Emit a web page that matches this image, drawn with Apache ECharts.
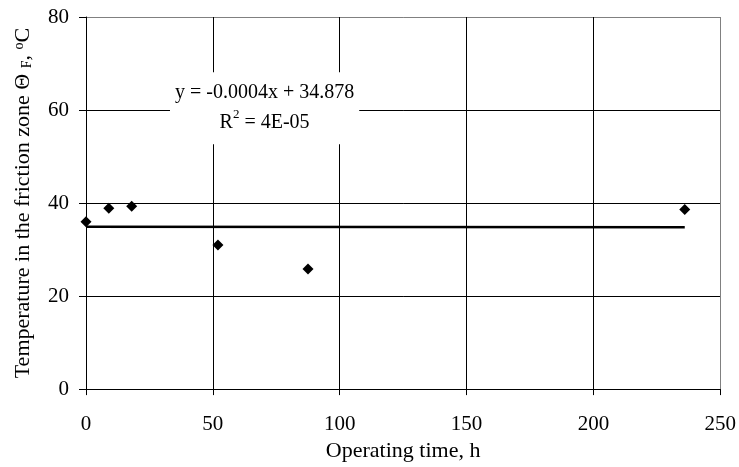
<!DOCTYPE html>
<html>
<head>
<meta charset="utf-8">
<script src="https://cdn.jsdelivr.net/npm/echarts@6/dist/echarts.min.js"></script>
<style>
  html, body { margin: 0; padding: 0; background: #fff; }
  #chart { width: 739px; height: 467px; }
</style>
</head>
<body>
<div id="chart"></div>
<script>
// operating time, h
const hours = [0, 9, 18, 52, 87.5, 236]
// temperature in friction zone, C
const temps = [36, 38.9, 39.3, 31, 25.8, 38.6]
const xTicks = [0, 50, 100, 150, 200, 250]
const yTicks = [0, 20, 40, 60, 80]
// linear trend as printed on the chart
const slope = -0.0004
const intercept = 34.878
const r2Text = '4E-05'

const font = 'Liberation Serif'
const fs = 21

const points = hours.map((h, i) => [h, temps[i]])
const xMin = Math.min(...hours)
const xMax = Math.max(...hours)
const trend = [[xMin, intercept + slope * xMin], [xMax, intercept + slope * xMax]]

// last split line is the plot border (grey)
const gridColors = (n) => {
    const c = []
    for (let i = 0; i < n; i++) c.push(i === n - 1 ? '#808080' : '#000')
    return c
}

const chart = echarts.init(document.getElementById('chart'))
const option = {
    animation: false,
    textStyle: { fontFamily: font },
    grid: { left: 86, right: 16, top: 17, bottom: 75 },
    xAxis: {
        type: 'value',
        min: xTicks[0],
        max: xTicks[xTicks.length - 1],
        interval: 50,
        name: 'Operating time, h',
        nameLocation: 'middle',
        nameGap: 50,
        nameTextStyle: { fontFamily: font, fontSize: 22, color: '#000' },
        axisLine: { show: true, onZero: false, lineStyle: { color: '#000', width: 1 } },
        axisTick: { show: true, length: 6, lineStyle: { color: '#000' } },
        axisLabel: { fontFamily: font, fontSize: fs, color: '#000', margin: 25 },
        splitLine: { show: true, lineStyle: { color: gridColors(xTicks.length), width: 1 } }
    },
    yAxis: {
        type: 'value',
        min: yTicks[0],
        max: yTicks[yTicks.length - 1],
        interval: 20,
        name: '{a|Temperature in the friction zone Θ }{s|F}{a|, }{o|o}{a|C}',
        nameLocation: 'middle',
        nameGap: 52,
        nameTextStyle: {
            fontFamily: font,
            color: '#000',
            rich: {
                a: { fontFamily: font, fontSize: 22, color: '#000' },
                s: { fontFamily: font, fontSize: 14, color: '#000', verticalAlign: 'bottom' },
                o: { fontFamily: font, fontSize: 14, color: '#000', verticalAlign: 'top' }
            }
        },
        axisLine: { show: true, onZero: false, lineStyle: { color: '#000', width: 1 } },
        axisTick: { show: true, length: 7, lineStyle: { color: '#000' } },
        axisLabel: { fontFamily: font, fontSize: fs, color: '#000', margin: 17 },
        splitLine: { show: true, lineStyle: { color: gridColors(yTicks.length), width: 1 } }
    },
    series: [
        {
            type: 'line',
            data: trend,
            symbol: 'none',
            lineStyle: { color: '#000', width: 2.5 },
            z: 3,
            markPoint: {
                symbol: 'rect',
                symbolSize: 0,
                data: [{ coord: [70.4, 60.4] }],
                label: {
                    show: true,
                    position: 'inside',
                    align: 'center',
                    verticalAlign: 'middle',
                    backgroundColor: '#fff',
                    padding: [6, 5, 6, 5],
                    lineHeight: 30,
                    formatter: '{t|y = ' + slope + 'x + ' + intercept + '}\n{t|R}{sup|2}{t| = ' + r2Text + '}',
                    rich: {
                        t: { fontFamily: font, fontSize: 20, color: '#000', lineHeight: 30, align: 'center' },
                        sup: { fontFamily: font, fontSize: 13, color: '#000', verticalAlign: 'top', lineHeight: 30 }
                    }
                }
            }
        },
        {
            type: 'scatter',
            data: points,
            symbol: 'diamond',
            symbolSize: 11,
            itemStyle: { color: '#000', opacity: 1 },
            z: 4
        }
    ]
}
chart.setOption(option)
</script>
</body>
</html>
